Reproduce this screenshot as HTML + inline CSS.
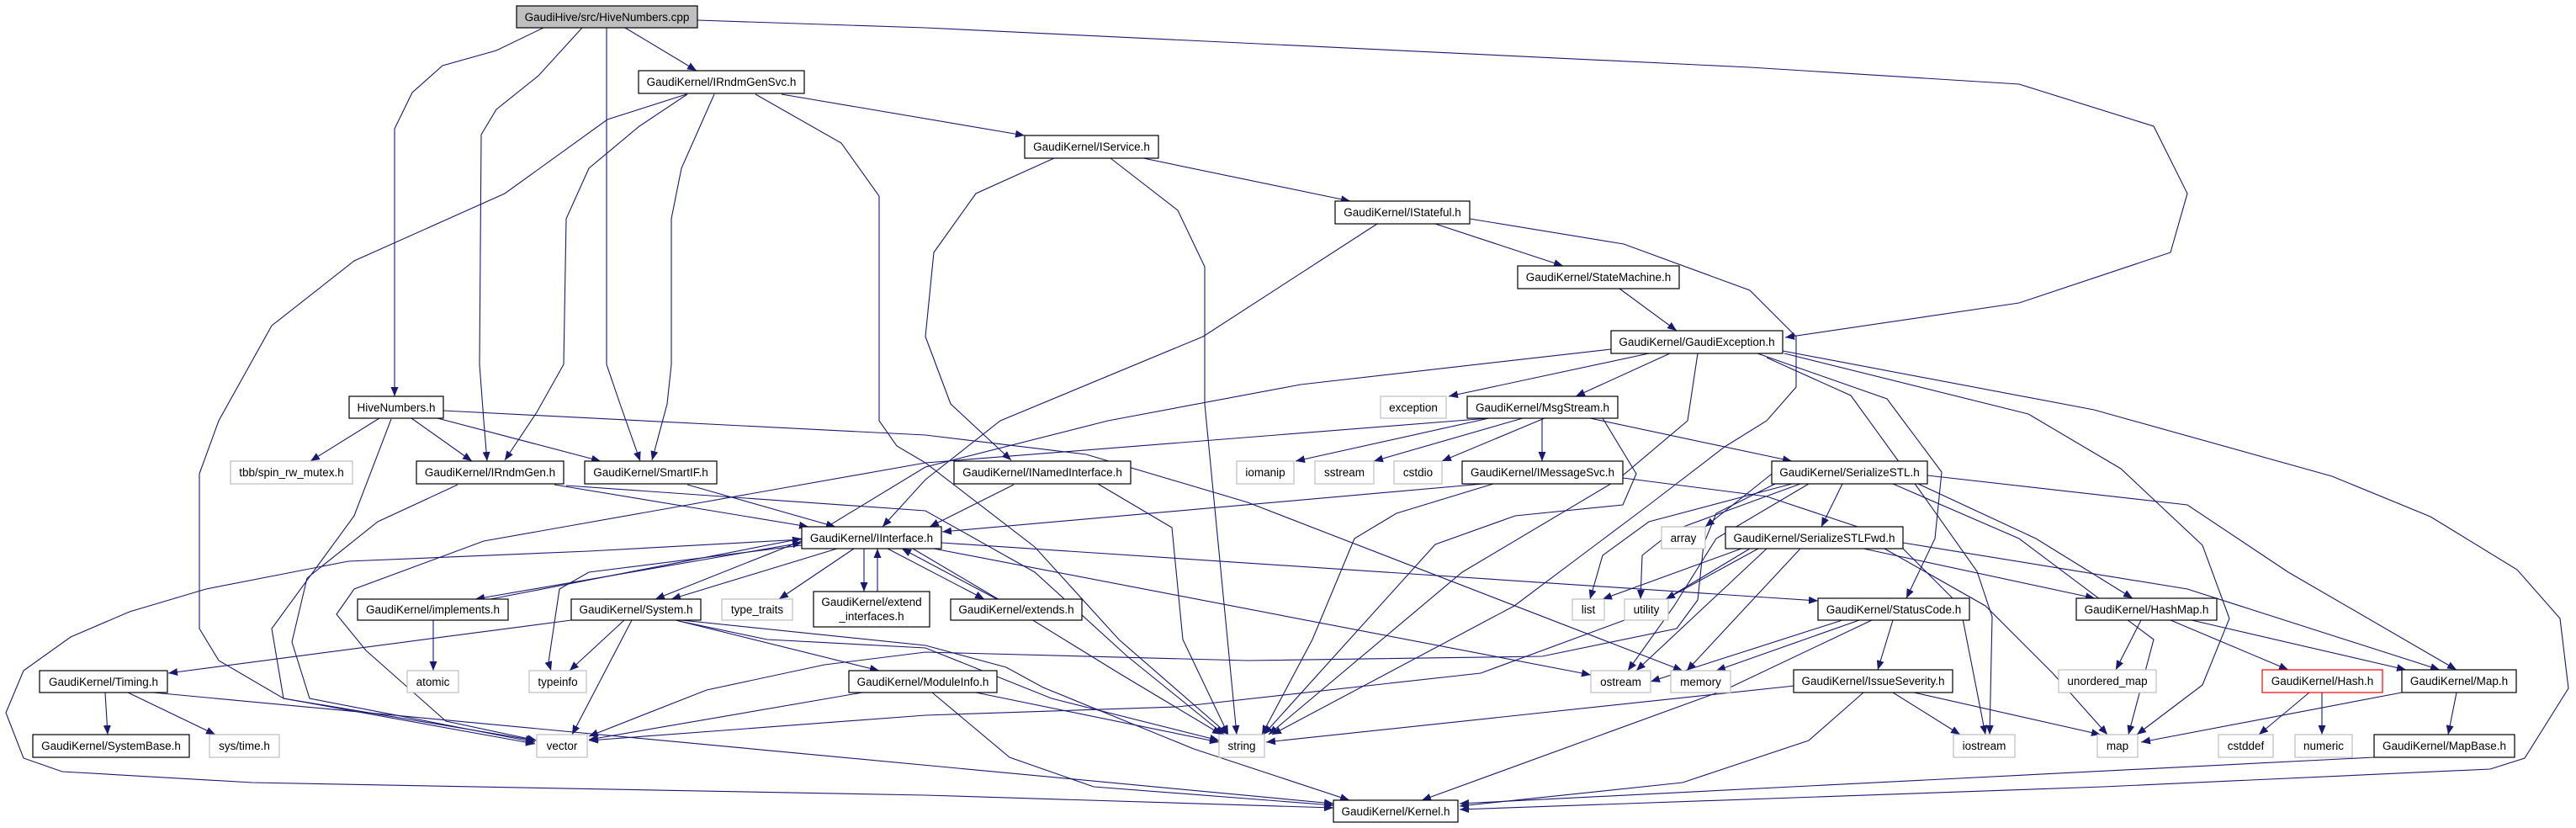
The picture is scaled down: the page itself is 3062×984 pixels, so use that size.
<!DOCTYPE html>
<html><head><meta charset="utf-8"><style>
html,body{margin:0;padding:0;background:#fff;}
svg{display:block;}
text{font-family:"Liberation Sans",sans-serif;font-size:13.5px;fill:#000;}
.e{fill:none;stroke:#191970;stroke-width:1.1;marker-end:url(#a);}
.b{marker-start:url(#s);}
.n{fill:#fff;stroke:#000;stroke-width:1.2;}
.g{fill:#fff;stroke:#bfbfbf;stroke-width:1.2;}
</style></head><body>
<svg width="3062" height="984" viewBox="0 0 3062 984" xmlns="http://www.w3.org/2000/svg">
<defs>
<marker id="a" markerWidth="11" markerHeight="9" refX="11" refY="4.5" orient="auto" markerUnits="userSpaceOnUse"><path d="M0,0L11,4.5L0,9z" fill="#191970"/></marker>
<marker id="s" markerWidth="11" markerHeight="9" refX="11" refY="4.5" orient="auto-start-reverse" markerUnits="userSpaceOnUse"><path d="M0,0L11,4.5L0,9z" fill="#191970"/></marker>
</defs>
<g>
<polyline class="e" points="743,33 828,84"/>
<polyline class="e" points="646,33 590,60 526,78 490,110 469,153 469,471"/>
<polyline class="e" points="692,33 640,90 590,130 572,160 570,433 575,500 579,548"/>
<polyline class="e" points="721,33 721,433 737,480 761,548"/>
<polyline class="e" points="829,24 1100,33 2080,80 2400,100 2560,150 2600,230 2580,300 2400,360 2122,401"/>
<polyline class="e" points="929,112 1218,161"/>
<polyline class="e" points="816,112 722,142 600,230 421,310 323,387 260,500 237,563 237,747 260,785 337,830 636,880"/>
<polyline class="e" points="817,112 760,150 700,200 673,260 670,433 638,490 600,547"/>
<polyline class="e" points="849,112 810,200 798,260 798,433 793,480 775,547"/>
<polyline class="e" points="898,112 1000,170 1045,233 1045,500 1066,530 1100,550 1230,650 1330,760 1460,873"/>
<polyline class="e" points="1359,188 1605,239"/>
<polyline class="e" points="1253,188 1160,230 1110,300 1100,400 1130,480 1202,547"/>
<polyline class="e" points="1320,188 1400,250 1432,317 1432,480 1470,873"/>
<polyline class="e" points="1706,266 1858,316"/>
<polyline class="e" points="1637,266 1430,400 1189,500 1100,570 1049,626"/>
<polyline class="e" points="1747,260 1930,290 2080,345 2135,400 2135,460 2100,500 2050,531 1960,600 1800,720 1512,873"/>
<polyline class="e" points="1925,343 1993,393"/>
<polyline class="e" points="1960,420 1722,471"/>
<polyline class="e" points="1985,420 1873,471"/>
<polyline class="e" points="1915,415 1546,457 1317,500 1100,555 960,640 779,712"/>
<polyline class="e" points="2018,420 2006,500 1923,570 1738,680 1508,873"/>
<polyline class="e" points="2119,417 2489,487 2772,566 2889,614 2992,677 3043,735 3053,818 3001,901 2960,914 2500,935 1735,962"/>
<polyline class="e" points="2089,420 2243,474 2308,561 2300,640 2266,711"/>
<polyline class="e" points="2121,420 2411,492 2521,557 2618,648 2650,735 2618,814 2540,873"/>
<polyline class="e" points="2100,425 2200,470 2282,583 2350,679 2368,733 2365,873"/>
<polyline class="e" points="1770,497 1540,548"/>
<polyline class="e" points="1810,497 1633,548"/>
<polyline class="e" points="1836,497 1714,548"/>
<polyline class="e" points="1833,497 1833,548"/>
<polyline class="e" points="1890,497 2130,548"/>
<polyline class="e" points="1770,497 1100,550 575,643 421,700 400,730 435,773 530,857 638,880"/>
<polyline class="e" points="1905,497 1945,563 1929,600 1801,613 1706,647 1502,873"/>
<polyline class="e" points="1763,575 1120,632"/>
<polyline class="e" points="1775,575 1660,610 1610,640 1560,760 1500,873"/>
<polyline class="e" points="1929,568 2100,590 2250,640 2330,720 2360,873"/>
<polyline class="e" points="1205,576 1105,626"/>
<polyline class="e" points="1305,575 1393,627 1406,760 1460,873"/>
<polyline class="e" points="659,576 961,626"/>
<polyline class="e" points="544,576 449,620 365,687 347,763 368,830 636,882"/>
<polyline class="e" points="673,577 1100,607 1230,680 1340,780 1455,873"/>
<polyline class="e" points="817,576 993,626"/>
<polyline class="e" points="451,497 369,548"/>
<polyline class="e" points="489,497 561,548"/>
<polyline class="e" points="520,497 714,548"/>
<polyline class="e" points="465,498 421,613 323,747 337,830 636,884"/>
<polyline class="e" points="527,488 1100,517 1291,540 1483,597 2000,797"/>
<polyline class="e b" points="953,645 565,712"/>
<polyline class="e" points="583,712 953,640"/>
<polyline class="e" points="995,652 798,712"/>
<polyline class="e" points="1015,652 926,712"/>
<polyline class="e" points="1027,652 1027,703"/>
<polyline class="e" points="1043,703 1043,652"/>
<polyline class="e" points="1055,652 1170,712"/>
<polyline class="e" points="1185,712 1072,652"/>
<polyline class="e" points="953,648 700,680 665,700 652,787 655,797"/>
<polyline class="e" points="954,641 700,655 414,667 245,700 154,727 84,757 28,797 7,847 28,901 74,917 300,930 1100,945 1585,960"/>
<polyline class="e" points="1110,652 1891,802"/>
<polyline class="e" points="1119,645 2100,710 2161,714"/>
<polyline class="e" points="1085,652 1200,720 1330,800 1452,873"/>
<polyline class="e" points="515,737 515,797"/>
<polyline class="e" points="679,737 200,800"/>
<polyline class="e" points="742,737 677,797"/>
<polyline class="e" points="751,737 680,873"/>
<polyline class="e" points="803,737 1045,797"/>
<polyline class="e" points="807,738 912,760 1100,770 1250,830 1449,880"/>
<polyline class="e" points="810,737 1100,767 1196,793 1240,817 1419,890 1604,951"/>
<polyline class="e" points="125,823 128,873"/>
<polyline class="e" points="152,823 256,873"/>
<polyline class="e" points="182,823 1585,955"/>
<polyline class="e" points="1025,823 700,879"/>
<polyline class="e" points="1160,823 1449,882"/>
<polyline class="e" points="1108,823 1200,900 1300,935 1585,957"/>
<polyline class="e" points="2110,560 2027,626"/>
<polyline class="e" points="2190,575 2165,626"/>
<polyline class="e" points="2130,575 1960,620 1905,660 1890,712"/>
<polyline class="e" points="2140,575 1990,630 1952,660 1950,712"/>
<polyline class="e" points="2150,575 2040,640 1990,720 1935,797"/>
<polyline class="e" points="2280,575 2420,640 2535,711"/>
<polyline class="e" points="2291,565 2600,600 2720,680 2920,796"/>
<polyline class="e" points="2250,575 2400,640 2560,760 2530,873"/>
<polyline class="e" points="2110,575 2040,610 2025,647 2018,713 1993,747 1833,780 1483,785 1100,775 980,790 840,820 700,875"/>
<polyline class="e" points="2070,652 1905,712"/>
<polyline class="e" points="2090,652 1980,712"/>
<polyline class="e" points="2100,652 1945,797"/>
<polyline class="e" points="2140,652 2005,797"/>
<polyline class="e" points="2215,652 2490,711"/>
<polyline class="e" points="2262,645 2600,700 2900,796"/>
<polyline class="e" points="2240,652 2360,720 2440,800 2505,873"/>
<polyline class="e" points="2080,652 1950,730 1760,800 1400,840 1100,850 700,880"/>
<polyline class="e" points="2190,737 1962,810"/>
<polyline class="e" points="2210,737 2040,797"/>
<polyline class="e" points="2250,737 2232,796"/>
<polyline class="e" points="2225,737 2050,820 1690,951"/>
<polyline class="e" points="2133,815 1505,882"/>
<polyline class="e" points="2250,823 2330,873"/>
<polyline class="e" points="2275,823 2497,873"/>
<polyline class="e" points="2215,823 2150,880 2000,930 1735,958"/>
<polyline class="e" points="2545,737 2515,796"/>
<polyline class="e" points="2580,737 2720,796"/>
<polyline class="e" points="2605,737 2860,796"/>
<polyline class="e" points="2745,823 2685,873"/>
<polyline class="e" points="2760,823 2760,873"/>
<polyline class="e" points="2855,823 2545,882"/>
<polyline class="e" points="2920,823 2910,873"/>
<polyline class="e" points="2822,900 1735,955"/>
</g>
<g>
<rect x="614" y="7" width="215" height="26" fill="#bfbfbf" stroke="#000" stroke-width="1.2"/><text x="721.5" y="25" text-anchor="middle">GaudiHive/src/HiveNumbers.cpp</text>
<rect class="n" x="759" y="84" width="197" height="27"/><text x="857.5" y="102" text-anchor="middle">GaudiKernel/IRndmGenSvc.h</text>
<rect class="n" x="1218" y="161" width="159" height="27"/><text x="1297.5" y="179" text-anchor="middle">GaudiKernel/IService.h</text>
<rect class="n" x="1587" y="239" width="160" height="27"/><text x="1667" y="257" text-anchor="middle">GaudiKernel/IStateful.h</text>
<rect class="n" x="1804" y="316" width="192" height="27"/><text x="1900" y="334" text-anchor="middle">GaudiKernel/StateMachine.h</text>
<rect class="n" x="1915" y="393" width="204" height="27"/><text x="2017" y="411" text-anchor="middle">GaudiKernel/GaudiException.h</text>
<rect class="n" x="415" y="471" width="112" height="26"/><text x="471" y="489" text-anchor="middle">HiveNumbers.h</text>
<rect class="g" x="1641" y="471" width="78" height="26"/><text x="1680" y="489" text-anchor="middle">exception</text>
<rect class="n" x="1744" y="471" width="179" height="26"/><text x="1833.5" y="489" text-anchor="middle">GaudiKernel/MsgStream.h</text>
<rect class="g" x="274" y="548" width="145" height="27"/><text x="346.5" y="566" text-anchor="middle">tbb/spin_rw_mutex.h</text>
<rect class="n" x="495" y="548" width="175" height="27"/><text x="582.5" y="566" text-anchor="middle">GaudiKernel/IRndmGen.h</text>
<rect class="n" x="695" y="548" width="157" height="27"/><text x="773.5" y="566" text-anchor="middle">GaudiKernel/SmartIF.h</text>
<rect class="n" x="1134" y="548" width="210" height="27"/><text x="1239" y="566" text-anchor="middle">GaudiKernel/INamedInterface.h</text>
<rect class="g" x="1470" y="548" width="68" height="27"/><text x="1504" y="566" text-anchor="middle">iomanip</text>
<rect class="g" x="1563" y="548" width="70" height="27"/><text x="1598" y="566" text-anchor="middle">sstream</text>
<rect class="g" x="1657" y="548" width="57" height="27"/><text x="1685.5" y="566" text-anchor="middle">cstdio</text>
<rect class="n" x="1738" y="548" width="191" height="27"/><text x="1833.5" y="566" text-anchor="middle">GaudiKernel/IMessageSvc.h</text>
<rect class="n" x="2106" y="548" width="185" height="27"/><text x="2198.5" y="566" text-anchor="middle">GaudiKernel/SerializeSTL.h</text>
<rect class="n" x="953" y="626" width="166" height="26"/><text x="1036" y="644" text-anchor="middle">GaudiKernel/IInterface.h</text>
<rect class="g" x="1975" y="626" width="52" height="26"/><text x="2001" y="644" text-anchor="middle">array</text>
<rect class="n" x="2051" y="626" width="211" height="26"/><text x="2156.5" y="644" text-anchor="middle">GaudiKernel/SerializeSTLFwd.h</text>
<rect class="n" x="425" y="712" width="179" height="25"/><text x="514.5" y="729" text-anchor="middle">GaudiKernel/implements.h</text>
<rect class="n" x="679" y="712" width="154" height="25"/><text x="756" y="729" text-anchor="middle">GaudiKernel/System.h</text>
<rect class="g" x="858" y="712" width="84" height="25"/><text x="900" y="729" text-anchor="middle">type_traits</text>
<rect class="n" x="967" y="703" width="138" height="42"/><text x="1036" y="720" text-anchor="middle">GaudiKernel/extend</text><text x="1036" y="737" text-anchor="middle">_interfaces.h</text>
<rect class="n" x="1130" y="712" width="156" height="25"/><text x="1208" y="729" text-anchor="middle">GaudiKernel/extends.h</text>
<rect class="g" x="1869" y="712" width="38" height="25"/><text x="1888" y="729" text-anchor="middle">list</text>
<rect class="g" x="1931" y="712" width="52" height="25"/><text x="1957" y="729" text-anchor="middle">utility</text>
<rect class="n" x="2161" y="711" width="180" height="26"/><text x="2251" y="729" text-anchor="middle">GaudiKernel/StatusCode.h</text>
<rect class="n" x="2468" y="711" width="167" height="26"/><text x="2551.5" y="729" text-anchor="middle">GaudiKernel/HashMap.h</text>
<rect class="n" x="47" y="797" width="152" height="26"/><text x="123" y="815" text-anchor="middle">GaudiKernel/Timing.h</text>
<rect class="g" x="484" y="797" width="61" height="26"/><text x="514.5" y="815" text-anchor="middle">atomic</text>
<rect class="g" x="629" y="797" width="68" height="26"/><text x="663" y="815" text-anchor="middle">typeinfo</text>
<rect class="n" x="1009" y="797" width="176" height="26"/><text x="1097" y="815" text-anchor="middle">GaudiKernel/ModuleInfo.h</text>
<rect class="g" x="1891" y="797" width="71" height="26"/><text x="1926.5" y="815" text-anchor="middle">ostream</text>
<rect class="g" x="1986" y="797" width="71" height="26"/><text x="2021.5" y="815" text-anchor="middle">memory</text>
<rect class="n" x="2132" y="796" width="189" height="27"/><text x="2226.5" y="814" text-anchor="middle">GaudiKernel/IssueSeverity.h</text>
<rect class="g" x="2447" y="796" width="116" height="27"/><text x="2505" y="814" text-anchor="middle">unordered_map</text>
<rect x="2689" y="796" width="143" height="27" fill="#fff" stroke="#ff0000" stroke-width="1.2"/><text x="2760.5" y="814" text-anchor="middle">GaudiKernel/Hash.h</text>
<rect class="n" x="2855" y="796" width="136" height="27"/><text x="2923" y="814" text-anchor="middle">GaudiKernel/Map.h</text>
<rect class="n" x="39" y="873" width="186" height="27"/><text x="132" y="891" text-anchor="middle">GaudiKernel/SystemBase.h</text>
<rect class="g" x="249" y="873" width="83" height="27"/><text x="290.5" y="891" text-anchor="middle">sys/time.h</text>
<rect class="g" x="638" y="873" width="60" height="27"/><text x="668" y="891" text-anchor="middle">vector</text>
<rect class="g" x="1449" y="873" width="54" height="27"/><text x="1476" y="891" text-anchor="middle">string</text>
<rect class="g" x="2322" y="873" width="73" height="27"/><text x="2358.5" y="891" text-anchor="middle">iostream</text>
<rect class="g" x="2493" y="873" width="48" height="27"/><text x="2517" y="891" text-anchor="middle">map</text>
<rect class="g" x="2637" y="873" width="65" height="27"/><text x="2669.5" y="891" text-anchor="middle">cstddef</text>
<rect class="g" x="2728" y="873" width="68" height="27"/><text x="2762" y="891" text-anchor="middle">numeric</text>
<rect class="n" x="2822" y="873" width="167" height="27"/><text x="2905.5" y="891" text-anchor="middle">GaudiKernel/MapBase.h</text>
<rect class="n" x="1585" y="951" width="148" height="26"/><text x="1659" y="969" text-anchor="middle">GaudiKernel/Kernel.h</text>
</g>
</svg>
</body></html>
